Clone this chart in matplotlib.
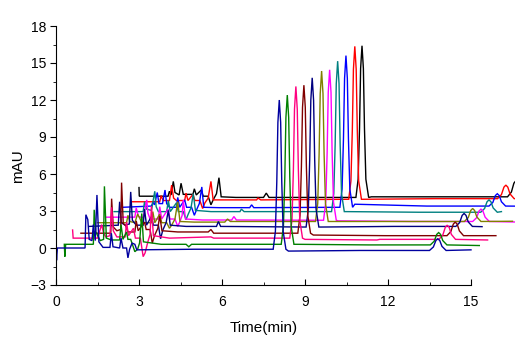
import numpy as np
import matplotlib
matplotlib.use("Agg")
import matplotlib.pyplot as plt
from matplotlib.ticker import MultipleLocator

plt.rcParams['font.family'] = ['Liberation Sans', 'DejaVu Sans']

# runs, from the front one (bottom) to the back one (top)
colors = ['#0000A0', '#008000', '#FF0080', '#800000', '#000080', '#808000',
          '#FF00FF', '#008080', '#0000FF', '#FF0000', '#000000']
# waterfall offsets: start time (min) and baseline (mAU) of each run
x_shift = [0.0, 0.3, 0.6, 0.9, 1.2, 1.5, 1.8, 2.1, 2.4, 2.7, 3.0]
y_shift = [0.0, 0.3, 0.8, 1.2, 1.75, 2.05, 2.35, 2.95, 3.3, 3.75, 4.2]

# baseline + early peaks of each run (time after start, signal)
run_t = [
    [0, 0.02, 0.05, 1.05, 1.08, 1.15, 1.2, 1.3, 1.35, 1.42, 1.48, 1.55, 1.7, 1.95, 2.0, 2.06, 2.3, 2.35, 2.42,
     2.55, 2.6, 2.66, 2.75, 2.85, 2.92, 5.0, 7.8, 8.4, 11.0, 15.0],
    [0, 0.02, 0.05, 1.05, 1.08, 1.14, 1.3, 1.42, 1.45, 1.52, 1.7, 2.0, 2.05, 2.12, 2.25, 2.3,
     2.4, 2.55, 2.65, 2.72, 2.8, 2.86, 3.5, 4.4, 4.5, 4.6, 7.8, 8.4, 11.0, 15.0],
    [0, 0.02, 0.9, 1.05, 1.12, 1.2, 1.35, 1.41, 1.47, 1.6, 1.9, 1.95, 2.02, 2.2, 2.27,
     2.45, 2.55, 2.62, 2.72, 2.8, 2.85, 2.92, 3.5, 5.0, 5.1, 7.8, 8.4, 11.0, 11.1, 15.0],
    [0, 1.08, 1.11, 1.17, 1.3, 1.44, 1.47, 1.53, 1.62, 1.7, 1.95, 2.0, 2.07, 2.3, 2.36,
     2.5, 2.58, 2.66, 2.78, 2.85, 2.93, 3.5, 4.6, 4.7, 4.8, 7.8, 8.4, 11.0, 15.0],
    [0, 1.05, 1.1, 1.16, 1.3, 1.45, 1.5, 1.56, 1.7, 1.95, 2.0, 2.07, 2.25, 2.32,
     2.5, 2.58, 2.66, 2.78, 2.86, 2.93, 3.5, 4.6, 4.67, 4.75, 7.8, 8.4, 11.0, 14.2],
    [0, 1.05, 1.1, 1.17, 1.35, 1.45, 1.52, 1.6, 1.95, 2.0, 2.07, 2.25, 2.32,
     2.5, 2.6, 2.68, 2.8, 2.9, 2.98, 3.5, 4.6, 4.7, 4.8, 7.8, 8.4, 11.0, 15.0],
    [0, 1.05, 1.1, 1.18, 1.35, 1.48, 1.52, 1.6, 1.9, 1.95, 2.02, 2.25, 2.32,
     2.5, 2.6, 2.68, 2.76, 2.8, 2.88, 3.5, 4.55, 4.63, 4.72, 7.8, 8.4, 11.0, 15.0],
    [0, 1.05, 1.1, 1.17, 1.35, 1.47, 1.52, 1.6, 1.9, 1.96, 2.03, 2.25, 2.32,
     2.5, 2.6, 2.68, 2.78, 2.86, 2.94, 3.5, 4.55, 4.6, 4.7, 7.8, 8.4, 11.0, 14.0],
    [0, 1.05, 1.1, 1.16, 1.26, 1.32, 1.45, 1.54, 1.6, 1.7, 1.95, 2.0, 2.07, 2.25, 2.32,
     2.5, 2.6, 2.68, 2.78, 2.87, 2.94, 3.5, 4.6, 4.67, 4.75, 7.8, 8.4, 11.0, 15.0],
    [0, 1.05, 1.1, 1.17, 1.4, 1.48, 1.55, 1.65, 1.95, 2.0, 2.07, 2.25, 2.32,
     2.5, 2.6, 2.68, 2.8, 2.9, 2.98, 3.5, 4.55, 4.6, 4.7, 7.8, 8.4, 11.0, 15.0],
    [0, 0.01, 1.05, 1.1, 1.16, 1.24, 1.3, 1.45, 1.52, 1.6, 1.95, 2.0, 2.07, 2.25, 2.32,
     2.5, 2.6, 2.68, 2.8, 2.89, 2.97, 3.5, 4.5, 4.6, 4.7, 7.8, 8.4, 11.0, 15.0],
]
run_v = [
    [0, -1.0, 0, 0, 2.7, 2.3, 0.7, 0.6, 1.9, 0.6, 4.3, 0.5, 0.05, 0.05, 1.2, 0.1, 0.0, 0.8, 0.0,
     0, -0.8, -0.1, 0.4, 0.3, -0.15, -0.1, -0.1, -0.25, -0.2, -0.15],
    [0, -1.0, 0, 0, 2.8, 1.0, 0.3, 0.4, 4.7, 0.5, 0.35, 0.35, 1.6, 0.4, 1.0, 0.4,
     0.4, -0.6, -0.4, 0.1, 2.5, 0.2, 0.0, 0.0, -0.2, 0.0, 0.0, 0.0, -0.05, -0.1],
    [0.66, 0, 0, 1.1, 0.4, 0.1, 0.2, 2.5, 0.6, 0.1, 0.1, 1.3, 0.2, 0.8, 0.0,
     0.0, -1.5, -1.2, -0.3, 0.3, 2.6, 0.2, 0.0, 0.1, 0.0, 0.0, -0.1, -0.15, -0.1, -0.15],
    [0, 0, 2.8, 0.5, 0.2, 0.3, 4.1, 0.8, 0.6, 0.1, 0.1, 1.0, 0.2, 0.9, 0.3,
     0.3, -0.8, -0.2, 0.4, 1.4, 0.2, 0.1, 0.1, 0.3, 0.0, 0.0, -0.15, -0.2, -0.2],
    [0, 0.1, 2.0, 0.3, 0.1, 0.2, 2.8, 0.5, 0.1, 0.1, 1.4, 0.1, 0.8, 0.1,
     0.1, -1.0, -0.3, 0.3, 1.3, 0.1, 0.0, 0.0, 0.4, 0.0, -0.05, -0.05, 0.0, -0.02],
    [0, 0.0, 0.6, 0.1, 0.0, 0.7, 0.4, 0.0, 0.0, 0.9, 0.0, 0.7, 0.0,
     0.0, -0.45, -0.2, 0.3, 1.7, 0.1, 0.05, 0.05, 0.3, 0.1, 0.1, 0.1, 0.1, 0.12],
    [0.15, 0.15, 0.9, 0.2, 0.1, 1.55, 0.5, 0.0, 0.0, 1.0, 0.0, 0.8, 0.0,
     0.0, -0.6, -0.2, 0.3, 1.55, 0.0, -0.08, -0.08, 0.2, -0.08, -0.1, -0.15, -0.2, -0.25],
    [0, 0, 0.8, 0.2, 0.1, 1.65, 0.4, 0.0, 0.0, 0.9, 0.0, 0.7, 0.0,
     0.0, -0.65, -0.2, 0.3, 1.45, 0.1, 0.0, 0.0, 0.2, 0.0, 0.0, 0.0, -0.05, 0.0],
    [0, 0.1, 0.4, 0.2, 1.2, 0.3, 0.3, 1.4, 0.3, 0.0, 0.0, 0.8, 0.0, 0.6, 0.0,
     0.0, -0.65, -0.2, 0.3, 1.65, 0.0, -0.03, -0.03, 0.2, -0.03, 0.0, 0.25, 0.1, 0.08],
    [0, 0, 0.5, 0.1, 0.1, 1.35, 0.3, 0.1, 0.1, 0.7, 0.1, 0.6, 0.1,
     0.1, -0.55, -0.1, 0.3, 1.65, 0.15, 0.15, 0.15, 0.3, 0.15, 0.2, 0.2, 0.25, 0.25],
    [0.7, 0, 0, 0.4, 0.1, 1.2, 0.3, 0.1, 1.05, 0.15, 0.15, 0.6, 0.1, 0.5, 0.0,
     0.0, -0.7, -0.3, 0.2, 1.5, -0.05, -0.1, -0.1, 0.25, -0.1, -0.1, -0.05, -0.05, -0.05],
]

# main peak and late peak: (time after start, height)
main_peak = [(8.07, 12.1), (8.06, 12.1), (8.07, 12.3), (8.06, 12.0), (8.06, 12.1), (8.10, 12.2),
             (8.09, 12.2), (8.08, 12.2), (8.08, 12.3), (8.10, 12.4), (8.06, 12.3)]
late_peak = [(13.80, 0.95), (13.53, 1.0), (13.54, 1.15), (13.53, 1.1), (13.55, 1.05), (13.56, 1.05),
             (13.56, 1.0), (13.55, 1.0), (13.55, 1.0), (13.56, 1.1), (13.62, 1.3)]

# peak outlines (time from apex, fraction of height)
main_dt = [-0.22, -0.14, -0.09, -0.05, 0, 0.05, 0.09, 0.14, 0.24]
main_fr = [0, 0.12, 0.45, 0.85, 1, 0.85, 0.45, 0.12, 0]
late_dt = [-0.3, -0.16, -0.07, 0, 0.07, 0.15, 0.3]
late_fr = [0, 0.3, 0.85, 1, 0.85, 0.35, 0]


def add_peak(t, v, pt, ph, dts, frs):
    i = int(np.searchsorted(t, pt))
    base = v[i - 1]
    t[i:i] = [pt + d for d in dts]
    v[i:i] = [base + f * ph for f in frs]


fig = plt.figure(figsize=(5.29, 3.54), dpi=100)
ax = fig.add_axes([56 / 529, 1 - 285 / 354, 459 / 529, 259 / 354])

for k in range(len(colors) - 1, -1, -1):
    t = list(run_t[k])
    v = list(run_v[k])
    add_peak(t, v, main_peak[k][0], main_peak[k][1], main_dt, main_fr)
    add_peak(t, v, late_peak[k][0], late_peak[k][1], late_dt, late_fr)
    ax.plot(np.array(t) + x_shift[k], np.array(v) + y_shift[k],
            color=colors[k], lw=1.0, solid_joinstyle='miter')

ax.set_xlim(0, 16.59)
ax.set_ylim(-3, 18)
ax.spines['top'].set_visible(False)
ax.spines['right'].set_visible(False)
ax.spines['bottom'].set_bounds(0, 15)
ax.set_xticks(np.arange(0, 16, 3))
ax.set_yticks(np.arange(-3, 19, 3))
ax.yaxis.set_minor_locator(MultipleLocator(1.5))
# minor ticks past 15 are not drawn on the axis
ax.set_xticks([1.5, 4.5, 7.5, 10.5, 13.5], minor=True)
ax.tick_params(axis='x', which='major', direction='in', length=4, pad=7, labelsize=10)
ax.tick_params(axis='x', which='minor', direction='in', length=2.5)
ax.tick_params(axis='y', which='major', direction='out', length=4, pad=3, labelsize=10)
ax.tick_params(axis='y', which='minor', direction='out', length=2.5)

fig.text(18.5 / 529, 1 - 166 / 354, 'mAU', rotation=90, ha='center', va='center', fontsize=11)
fig.text(264 / 529, 1 - 328 / 354, 'Time(min)', ha='center', va='center', fontsize=11)

fig.savefig('out.png', dpi=100)
